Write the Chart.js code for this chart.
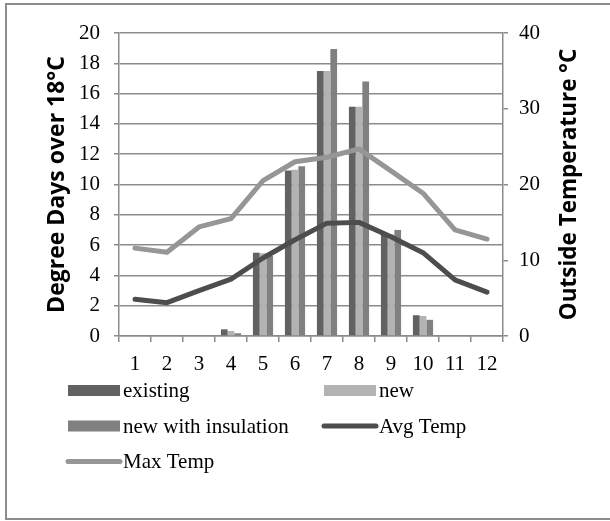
<!DOCTYPE html>
<html>
<head>
<meta charset="utf-8">
<script src="https://cdn.jsdelivr.net/npm/chart.js@4.4.1/dist/chart.umd.min.js"></script>
<style>
  html, body { margin: 0; padding: 0; background: #fff; }
  #wrap { width: 610px; height: 521px; }
</style>
</head>
<body>
<div id="wrap"><canvas id="chart" width="610" height="521"></canvas></div>
<script>
// data
const months = ["1", "2", "3", "4", "5", "6", "7", "8", "9", "10", "11", "12"];
const existing = [0, 0, 0, 0.44, 5.5, 10.93, 17.5, 15.13, 6.7, 1.37, 0, 0];
const newBuild = [0, 0, 0, 0.33, 5.46, 10.97, 17.5, 15.13, 6.7, 1.32, 0, 0];
const newInsulated = [0, 0, 0, 0.18, 5.3, 11.2, 18.95, 16.8, 7.0, 1.07, 0, 0];
const avgTemp = [4.85, 4.4, 6.0, 7.5, 10.3, 12.7, 14.9, 15.0, 13.1, 11.0, 7.4, 5.8];
const maxTemp = [11.6, 11.05, 14.4, 15.5, 20.5, 23.0, 23.6, 24.7, 21.8, 18.85, 14.0, 12.8];

const leftTitle = "Degree Days over 18°C";
const rightTitle = "Outside Temperature °C";

const GRID = "#8c8c8c";
const serif = "'Liberation Serif', 'Times New Roman', serif";
const sans = "'Open Sans', 'DejaVu Sans', sans-serif";

// frame + right title + two-column legend
const extras = {
  id: "extras",
  beforeDraw(chart) {
    const ctx = chart.ctx;
    ctx.save();
    ctx.strokeStyle = GRID;
    ctx.lineWidth = 2;
    ctx.strokeRect(6, 4, 620, 515);
    ctx.restore();
  },
  afterDraw(chart) {
    const ctx = chart.ctx;
    const area = chart.chartArea;

    // right axis title reads bottom to top
    ctx.save();
    ctx.font = "bold 22.5px " + sans;
    ctx.fillStyle = "#000";
    ctx.textAlign = "center";
    ctx.textBaseline = "middle";
    ctx.translate(570, (area.top + area.bottom) / 2);
    ctx.rotate(-Math.PI / 2);
    ctx.fillText(rightTitle, 0, 0);
    ctx.restore();

    // legend
    const cols = [68, 324];
    const rows = [390.5, 426, 461.5];
    ctx.save();
    ctx.font = "21px " + serif;
    ctx.textBaseline = "middle";
    ctx.textAlign = "left";
    chart.data.datasets.slice().sort((a, b) => a.legendIdx - b.legendIdx).forEach((ds, i) => {
      const x = cols[i % 2];
      const y = rows[Math.floor(i / 2)];
      if (ds.type === "line") {
        ctx.strokeStyle = ds.borderColor;
        ctx.lineWidth = 5;
        ctx.lineCap = "round";
        ctx.beginPath();
        ctx.moveTo(x, y);
        ctx.lineTo(x + 52, y);
        ctx.stroke();
      } else {
        ctx.fillStyle = ds.backgroundColor;
        ctx.fillRect(x, y - 5.5, 52, 11);
      }
      ctx.fillStyle = "#000";
      ctx.fillText(ds.label, x + 55, y + 1);
    });
    ctx.restore();
  }
};

const ctx = document.getElementById("chart").getContext("2d");
const myChart = new Chart(ctx, {
  data: {
    labels: months,
    datasets: [
      { type: "bar", label: "existing", data: existing, backgroundColor: "#626262", yAxisID: "y", order: 2, legendIdx: 0 },
      { type: "bar", label: "new", data: newBuild, backgroundColor: "#b3b3b3", yAxisID: "y", order: 2, legendIdx: 1 },
      { type: "bar", label: "new with insulation", data: newInsulated, backgroundColor: "#808080", yAxisID: "y", order: 2, legendIdx: 2 },
      {
        type: "line", label: "Avg Temp", data: avgTemp, yAxisID: "y1", order: 1, legendIdx: 3,
        borderColor: "#4d4d4d", borderWidth: 5, borderCapStyle: "round", borderJoinStyle: "round",
        pointRadius: 0, tension: 0, fill: false
      },
      {
        type: "line", label: "Max Temp", data: maxTemp, yAxisID: "y1", order: 1, legendIdx: 4,
        borderColor: "#969696", borderWidth: 5, borderCapStyle: "round", borderJoinStyle: "round",
        pointRadius: 0, tension: 0, fill: false
      }
    ]
  },
  options: {
    responsive: false,
    animation: false,
    events: [],
    layout: { padding: { left: 0, top: 33, right: 0, bottom: 145 } },
    datasets: {
      bar: { categoryPercentage: 0.63, barPercentage: 1, borderWidth: 0 }
    },
    plugins: {
      legend: { display: false },
      tooltip: { enabled: false }
    },
    scales: {
      x: {
        grid: { drawOnChartArea: false, drawTicks: true, tickLength: 6, color: GRID, lineWidth: 1.5, offset: true },
        border: { display: true, color: GRID, width: 1.5 },
        ticks: { color: "#000", font: { family: serif, size: 21 }, padding: 10, maxRotation: 0 },
        afterFit(scale) { scale.height = 40; }
      },
      y: {
        position: "left",
        min: 0,
        max: 20,
        ticks: { stepSize: 2, color: "#000", font: { family: serif, size: 21 }, padding: 14 },
        grid: { color: GRID, lineWidth: 1.5, tickLength: 5 },
        border: { display: true, color: GRID, width: 1.5 },
        title: {
          display: true,
          text: leftTitle,
          color: "#000",
          font: { family: sans, size: 23, weight: "bold" },
          padding: { top: 44, bottom: 0 }
        },
        afterFit(scale) { scale.width = 119; }
      },
      y1: {
        position: "right",
        min: 0,
        max: 40,
        ticks: { stepSize: 10, color: "#000", font: { family: serif, size: 21 }, padding: 11 },
        grid: { drawOnChartArea: false, color: GRID, lineWidth: 1.5, tickLength: 5 },
        border: { display: true, color: GRID, width: 1.5 },
        afterFit(scale) { scale.width = 107; }
      }
    }
  },
  plugins: [extras]
});
</script>
</body>
</html>
